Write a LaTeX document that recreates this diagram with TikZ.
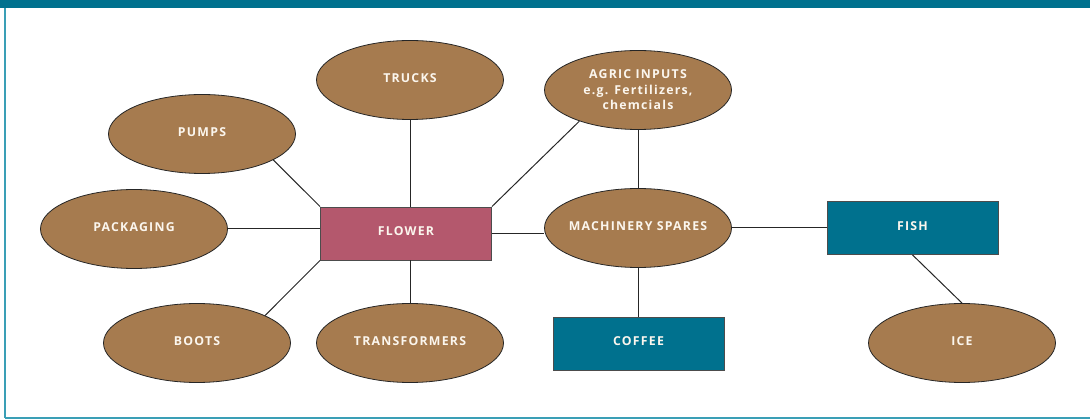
\documentclass[tikz,border=0pt]{standalone}
\usepackage{fontspec}
\setmainfont{Open Sans}
\usetikzlibrary{shapes.geometric}
\definecolor{barteal}{HTML}{00718E}
\definecolor{lineteal}{HTML}{3A9FB6}
\definecolor{nodebrown}{HTML}{A67B4F}
\definecolor{flowerred}{HTML}{B4586D}
\definecolor{boxteal}{HTML}{00718E}
\definecolor{txt}{HTML}{FBF6EE}
\tikzset{
  lbl/.style={font=\bfseries\fontsize{12.3}{15.5}\selectfont\addfontfeatures{LetterSpace=10}, text=txt},
  oval/.style={ellipse, draw=black!85, line width=0.8pt, fill=nodebrown, minimum width=187pt, minimum height=79pt, inner xsep=-12pt, inner ysep=0pt, lbl, align=center},
  raised/.style={text depth=3.5pt},
  rbox/.style={rectangle, draw=black!70, line width=0.8pt, minimum width=171pt, minimum height=53pt, inner sep=0pt, lbl, text depth=4pt},
  link/.style={draw=black!85, line width=1pt}
}
\begin{document}
\begin{tikzpicture}[x=1pt,y=-1pt]
\useasboundingbox (0,0) rectangle (1090,419);
% frame
\fill[barteal] (0,0) rectangle (1090,8);
\draw[lineteal, line width=2pt] (5,8) -- (5,418);
\draw[lineteal, line width=1.5pt] (5,418) -- (1090,418);
% nodes
\node[oval, raised] (trucks) at (410,80) {TRUCKS};
\node[oval, raised] (pumps) at (202,134) {PUMPS};
\node[oval, raised] (packaging) at (134,229) {PACKAGING};
\node[oval, raised] (boots) at (197,343) {BOOTS};
\node[oval, raised] (transformers) at (410,343) {TRANSFORMERS};
\node[oval] (agric) at (638,90) {AGRIC INPUTS\\e.g. Fertilizers,\\chemcials};
\node[oval, raised] (machinery) at (638,228) {MACHINERY SPARES};
\node[oval, raised] (ice) at (962,343) {ICE};
\node[rbox, fill=flowerred] (flower) at (406,233.5) {FLOWER};
\node[rbox, fill=boxteal] (fish) at (912.5,228) {FISH};
\node[rbox, fill=boxteal] (coffee) at (638.5,343.5) {COFFEE};
% connectors
\draw[link] (pumps.-20) -- (flower.north west);
\draw[link] (packaging) -- (flower.west |- packaging);
\draw[link] (boots.22) -- (flower.south west);
\draw[link] (trucks.south) -- (trucks.south |- flower.north);
\draw[link] (transformers.north) -- (transformers.north |- flower.south);
\draw[link] (agric.208) -- (flower.north east);
\draw[link] (flower.east) -- (machinery.west |- flower.east);
\draw[link] (agric.south) -- (machinery.north);
\draw[link] (machinery.south) -- (coffee.north -| machinery.south);
\draw[link] (machinery.east) -- (fish.west);
\draw[link] (fish.south) -- (ice.north);
\end{tikzpicture}
\end{document}
